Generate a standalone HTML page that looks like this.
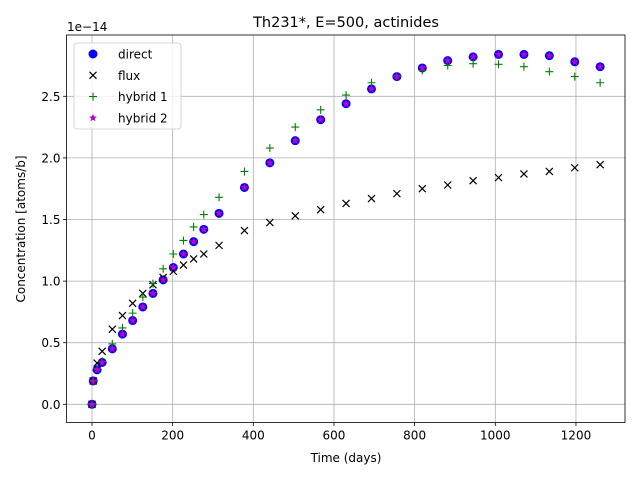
<!DOCTYPE html>
<html><head><meta charset="utf-8"><style>
body{margin:0;background:#fff;}
svg text{font-family:"DejaVu Sans","Liberation Sans",sans-serif;fill:#000;}
</style></head><body>
<svg id="chart" width="640" height="480" xmlns="http://www.w3.org/2000/svg">
<rect width="640" height="480" fill="#fff"/>
<g id="grid"></g>
<g id="axes"></g>
<g id="marks"></g>
<text x="346" y="27" font-size="14.5" text-anchor="middle">Th231*, E=500, actinides</text>
<text x="346" y="462" font-size="12" text-anchor="middle">Time (days)</text>
<text transform="translate(25,229) rotate(-90)" font-size="12" text-anchor="middle">Concentration [atoms/b]</text>
<text x="67" y="31" font-size="12">1e−14</text>
<g id="legend"></g>
</svg>
<script>
const times=[0,3,12.6,25.2,50.4,75.6,100.8,126,151.2,176.4,201.6,226.8,252,277.2,315,378,441,504,567,630,693,756,819,882,945,1008,1071,1134,1197,1260];
const direct=[0,0.19,0.28,0.34,0.45,0.57,0.68,0.79,0.90,1.01,1.11,1.22,1.32,1.42,1.55,1.76,1.96,2.14,2.31,2.44,2.56,2.66,2.73,2.79,2.82,2.84,2.84,2.83,2.78,2.74];
const flux=[0,0.19,0.335,0.43,0.61,0.72,0.82,0.90,0.97,1.03,1.08,1.13,1.18,1.22,1.29,1.41,1.475,1.53,1.58,1.63,1.67,1.71,1.75,1.78,1.815,1.84,1.87,1.89,1.92,1.945];
const hybrid1=[0,0.19,0.29,0.35,0.49,0.62,0.74,0.87,0.98,1.10,1.22,1.33,1.44,1.54,1.68,1.89,2.08,2.25,2.39,2.51,2.61,2.66,2.71,2.75,2.765,2.76,2.74,2.70,2.66,2.61];
const hybrid2=direct.slice();
const xTicks=[0,200,400,600,800,1000,1200];
const yTicks=[0,0.5,1.0,1.5,2.0,2.5];
const NS="http://www.w3.org/2000/svg";
const L=66.5,R=625,T=35,B=422.5;
function xp(d){return 92+d*0.4033;}
function yp(v){return 404.3-v*123.2;}
function mk(tag,attrs,parent){const e=document.createElementNS(NS,tag);for(const k in attrs)e.setAttribute(k,attrs[k]);parent.appendChild(e);return e;}
const grid=document.getElementById('grid'),axes=document.getElementById('axes'),marks=document.getElementById('marks'),leg=document.getElementById('legend');
xTicks.forEach(t=>{const x=xp(t);
 const g=mk('line',{x1:x,x2:x,y1:T,y2:B,stroke:'#b0b0b0','stroke-width':0.8},grid);
 
 mk('line',{x1:x,x2:x,y1:B,y2:B+3.5,stroke:'#000','stroke-width':0.8},axes);
 const tx=mk('text',{x:x,y:B+17,'font-size':12,'text-anchor':'middle'},axes);tx.textContent=t;
 });
yTicks.forEach(t=>{const y=yp(t);
 const g=mk('line',{x1:L,x2:R,y1:y,y2:y,stroke:'#b0b0b0','stroke-width':0.8},grid);
 
 mk('line',{x1:L-3.5,x2:L,y1:y,y2:y,stroke:'#000','stroke-width':0.8},axes);
 const tx=mk('text',{x:L-6,y:y+4.5,'font-size':12,'text-anchor':'end'},axes);tx.textContent=t.toFixed(1);
 });
const frame=mk('rect',{x:L,y:T,width:R-L,height:B-T,fill:'none',stroke:'#000','stroke-width':0.8},axes);

function circle(x,y,p){return mk('circle',{cx:x,cy:y,r:4.5,fill:'#0000ff'},p);}
function cross(x,y,p){const g=mk('g',{},p);mk('path',{d:`M${x-3.5},${y-3.5}L${x+3.5},${y+3.5}M${x-3.5},${y+3.5}L${x+3.5},${y-3.5}`,stroke:'#000','stroke-width':1.2},g);return g;}
function plus(x,y,p){return mk('path',{d:`M${x-4},${y}L${x+4},${y}M${x},${y-4}L${x},${y+4}`,stroke:'#008000','stroke-width':1.1},p);}
function star(x,y,p){let d='';for(let i=0;i<10;i++){const r=i%2?1.8:4.2;const a=-Math.PI/2+i*Math.PI/5;d+=(i?'L':'M')+(x+r*Math.cos(a)).toFixed(2)+','+(y+r*Math.sin(a)).toFixed(2);}return mk('path',{d:d+'Z',fill:'#bf00bf'},p);}
times.forEach((t,i)=>{const e=circle(xp(t),yp(direct[i]),marks);});
times.forEach((t,i)=>{const e=cross(xp(t),yp(flux[i]),marks);});
times.forEach((t,i)=>{const e=plus(xp(t),yp(hybrid1[i]),marks);});
times.forEach((t,i)=>{const e=star(xp(t),yp(hybrid2[i]),marks);});
mk('rect',{x:74,y:43,width:107,height:86,rx:3,fill:'#fff','fill-opacity':0.8,stroke:'#cccccc','stroke-width':0.8},leg);
const labels=['direct','flux','hybrid 1','hybrid 2'],fns=[circle,cross,plus,star];
labels.forEach((lb,i)=>{const y=54+i*21.3;const g=mk('g',{},leg);
 
 fns[i](93,y,g);const tx=mk('text',{x:118,y:y+4.5,'font-size':12},g);tx.textContent=lb;});
</script>
</body></html>
